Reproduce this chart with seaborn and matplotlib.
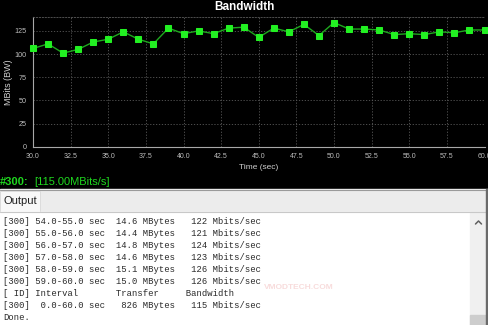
import matplotlib
matplotlib.use("Agg")
import matplotlib.pyplot as plt
import seaborn as sns
import pandas as pd
from matplotlib.patches import Rectangle

# ---------------- data ----------------
time_sec = [30, 31, 32, 33, 34, 35, 36, 37, 38, 39, 40, 41, 42, 43, 44, 45,
            46, 47, 48, 49, 50, 51, 52, 53, 54, 55, 56, 57, 58, 59, 60]
bandwidth_mbits = [106, 111, 101, 105, 113, 116, 124, 116, 111, 128, 122, 125,
                   122, 128, 129, 118, 128, 124, 132, 120, 134, 127, 127, 126,
                   121, 122, 121, 124, 123, 126, 126]
x_ticks = [30.0, 32.5, 35.0, 37.5, 40.0, 42.5, 45.0, 47.5, 50.0, 52.5, 55.0, 57.5, 60.0]
y_ticks = [0, 25, 50, 75, 100, 125]

log_intervals = ["54.0-55.0", "55.0-56.0", "56.0-57.0", "57.0-58.0", "58.0-59.0", "59.0-60.0"]
log_transfer = ["14.6", "14.4", "14.8", "14.6", "15.1", "15.0"]
log_bandwidth = ["122", "121", "124", "123", "126", "126"]
summary_line = "[300]  0.0-60.0 sec   826 MBytes   115 Mbits/sec"
header_line = "[ ID] Interval       Transfer     Bandwidth"
status_id = "#300:"
status_value = "[115.00MBits/s]"

# ---------------- style ----------------
sns.set_theme(style="dark")
plt.rcParams['font.family'] = ['Liberation Sans', 'DejaVu Sans']

W, H = 488, 325
fig = plt.figure(figsize=(W / 100, H / 100), dpi=100, facecolor='black')

# background / UI layer in pixel coordinates
bg = fig.add_axes([0, 0, 1, 1])
bg.set_xlim(0, W)
bg.set_ylim(H, 0)
bg.axis('off')
bg.add_patch(Rectangle((0, 0), W, 189, color='black', zorder=0))
bg.add_patch(Rectangle((0, 189), W, H - 189, color='#ececec', zorder=0))
bg.plot([0, W], [189.5, 189.5], color='#9a9a9a', lw=0.8, zorder=1)
bg.add_patch(Rectangle((0, 191), 40, 21, facecolor='#f8f8f8', edgecolor='#d8d8d8', lw=0.6, zorder=1))
bg.add_patch(Rectangle((0, 212), 470, H - 212, color='white', zorder=1))
bg.plot([0, 486], [212, 212], color='#c8c8c8', lw=0.8, zorder=2)
# scrollbar
bg.add_patch(Rectangle((470, 212), 16, H - 212, color='#f0f0f0', zorder=1))
bg.add_patch(Rectangle((470, 315), 16, 10, color='#cdcdcd', zorder=2))
bg.add_patch(Rectangle((486, 189), 2, H - 189, color='#6a6a6a', zorder=2))
bg.plot([475.5, 478.5, 481.5], [224, 221, 224], color='#606060', lw=1.1, zorder=3)

# status text
bg.text(0, 182, status_id, color='#1fd81f', fontsize=8, fontweight='bold',
        va='center', ha='left', zorder=3)
bg.text(34, 182, status_value, color='#1fd81f', fontsize=8,
        va='center', ha='left', zorder=3)

# Output tab
bg.text(4, 201, "Output", color='#202020', fontsize=8, va='center', ha='left', zorder=3)

# watermark
bg.text(264, 287.5, "VMODTECH.COM", color='#e06060', alpha=0.22, fontsize=6,
        fontweight='bold', va='center', ha='left', zorder=2)

# log text
log_lines = [f"[300] {iv} sec  {tr} MBytes   {bw} Mbits/sec"
             for iv, tr, bw in zip(log_intervals, log_transfer, log_bandwidth)]
log_lines += [header_line, summary_line, "Done."]
for i, line in enumerate(log_lines):
    bg.text(3, 221.3 + 12 * i, line, family='Liberation Mono', fontsize=6.4,
            color='#2a2a2a', va='center', ha='left', zorder=3)

# ---------------- chart ----------------
left, right, top, bottom = 33, 484.5, 17, 146.7
ax = fig.add_axes([left / W, 1 - bottom / H, (right - left) / W, (bottom - top) / H])
ax.set_facecolor('black')
df = pd.DataFrame({"Time (sec)": time_sec, "MBits (BW)": bandwidth_mbits})
sns.lineplot(data=df, x="Time (sec)", y="MBits (BW)", ax=ax, color='#1ea81e',
             lw=1.0, marker='s', markersize=4.2, markerfacecolor='#22f022',
             markeredgecolor='#22f022', clip_on=False, zorder=5)
ax.set_xlim(30, 60)
ax.set_ylim(0, 140)
ax.set_xticks(x_ticks)
ax.set_xticklabels([f"{t:.1f}" for t in x_ticks])
ax.set_yticks(y_ticks)
ax.grid(True, color='#5a5a5a', linestyle=(0, (1.5, 2)), lw=0.6)
for s in ['left', 'bottom']:
    ax.spines[s].set_visible(True)
    ax.spines[s].set_color('#a8a8a8')
    ax.spines[s].set_linewidth(0.8)
ax.spines['right'].set_visible(False)
ax.spines['top'].set_visible(True)
ax.spines['top'].set_color('#5a5a5a')
ax.spines['top'].set_linestyle((0, (1.5, 2)))
ax.spines['top'].set_linewidth(0.6)
ax.tick_params(axis='both', colors='#bdbdbd', length=2.5, width=0.6, pad=2)
ax.tick_params(axis='x', labelsize=5)
ax.tick_params(axis='y', labelsize=5.2)
ax.set_xlabel("Time (sec)", color='#cfcfcf', fontsize=6, labelpad=3)
ax.set_ylabel("MBits (BW)", color='#cfcfcf', fontsize=6.5)
ax.yaxis.label.set_va('center')
ax.yaxis.set_label_coords((9 - left) / (right - left), 0.5)
fig.suptitle("Bandwidth", x=0.5, y=1 - 6.5 / H, va='center', color='white',
             fontsize=8.5, fontweight='bold')

fig.savefig("out.png", dpi=100, facecolor='black')
